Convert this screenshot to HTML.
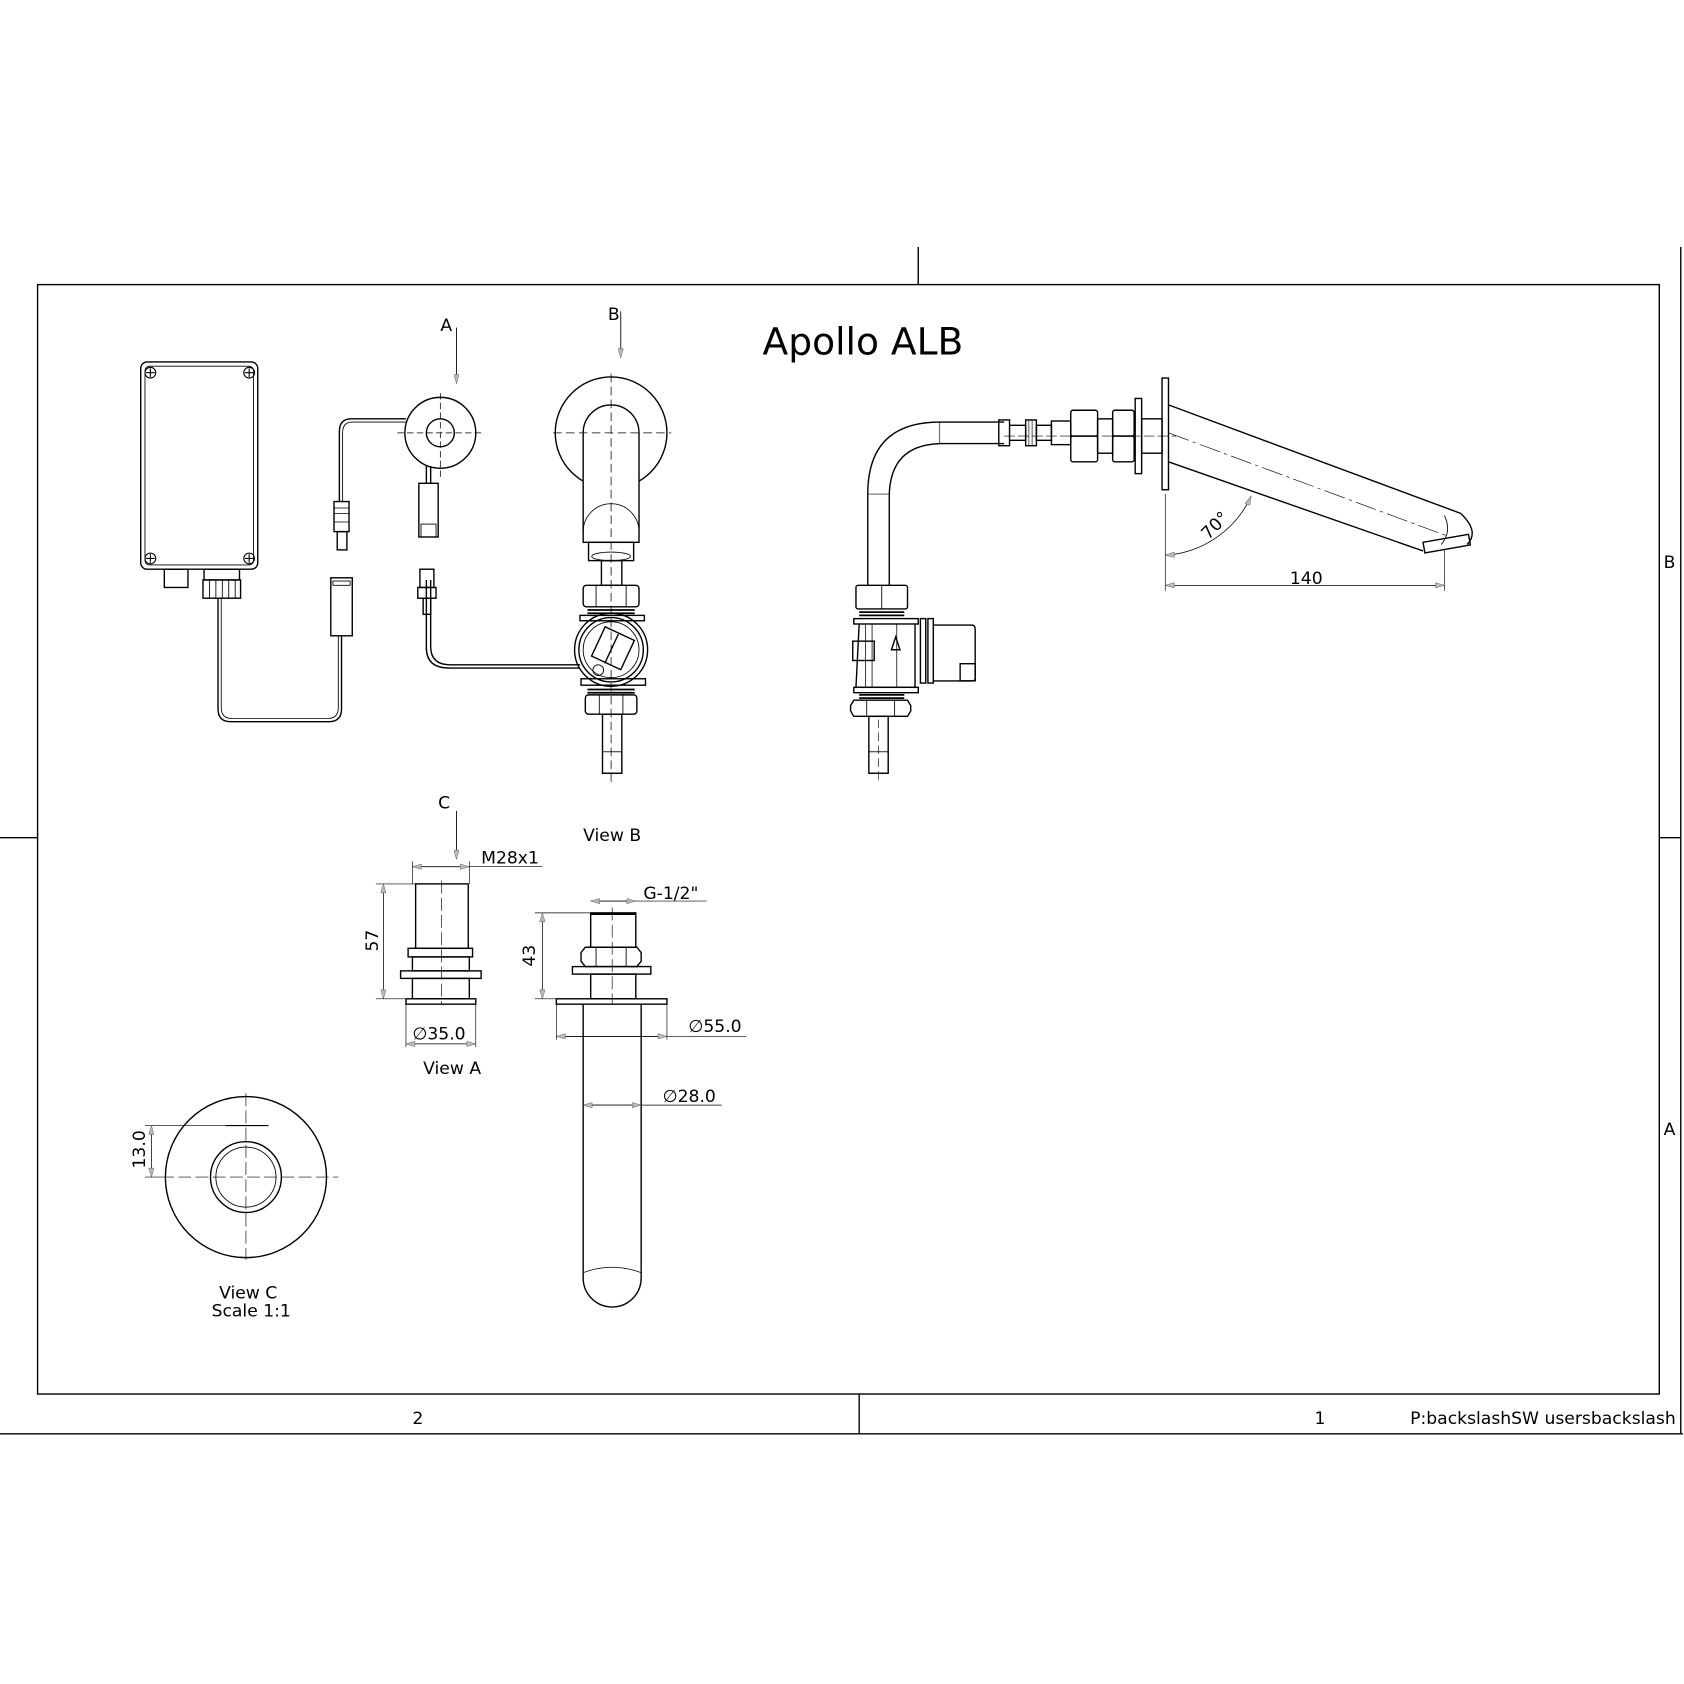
<!DOCTYPE html>
<html><head><meta charset="utf-8"><style>
html,body{margin:0;padding:0;background:#fff}
svg{display:block}
text{font-family:"DejaVu Sans","Liberation Sans",sans-serif;fill:#000}
</style></head><body>
<svg width="1684" height="1684" viewBox="0 0 1568 1568" xmlns="http://www.w3.org/2000/svg">
<defs>
<marker id="ar" viewBox="0 0 10 6" refX="10" refY="3" markerWidth="14" markerHeight="5" orient="auto-start-reverse" markerUnits="userSpaceOnUse"><path d="M0,0 L10,3 L0,6 z" fill="#bbb" stroke="#555" stroke-width="0.5"/></marker>
</defs>
<g fill="none" stroke="#000" stroke-width="1.3">
<!-- frame -->
<rect x="35" y="265" width="1510" height="1033"/>
<line x1="855" y1="230" x2="855" y2="265"/>
<line x1="1565" y1="230" x2="1565" y2="1335"/>
<line x1="0" y1="780" x2="35" y2="780"/>
<line x1="1545" y1="780" x2="1565" y2="780"/>
<line x1="0" y1="1335" x2="1568" y2="1335"/>
<line x1="800" y1="1298" x2="800" y2="1335"/>

<!-- control box -->
<rect x="131" y="337" width="109" height="193" rx="6"/>
<rect x="135" y="341" width="101" height="185" rx="4" stroke-width="0.8"/>
<g stroke-width="1">
<circle cx="140" cy="347" r="5"/><circle cx="232" cy="347" r="5"/>
<circle cx="140" cy="520" r="5"/><circle cx="232" cy="520" r="5"/>
<path d="M136,347h8M140,343v8M228,347h8M232,343v8M136,520h8M140,516v8M228,520h8M232,516v8"/>
</g>
<rect x="153" y="530" width="22" height="17"/>
<rect x="190" y="530" width="33" height="10"/>
<rect x="189" y="540" width="35" height="17"/>
<path d="M195,540v17M201,540v17M207,540v17M213,540v17M219,540v17" stroke-width="0.8"/>
<path d="M203,557 V660 Q203,672 215,672 H306 Q318,672 318,660 V592"/>
<path d="M206,557 V659 Q206,669 216,669 H305 Q315,669 315,659 V592" stroke-width="0.8"/>
<rect x="308" y="538" width="20" height="54"/>
<rect x="310" y="541" width="16" height="4" stroke-width="0.8"/>

<!-- sensor A -->
<circle cx="410" cy="403" r="33"/>
<circle cx="410" cy="403" r="13"/>
<path d="M370,403h80M410,366v80" stroke-dasharray="6,3" stroke-width="0.7"/>
<path d="M378,390 H327 Q316,390 316,402 V467"/>
<path d="M378,393 H328 Q319,393 319,403 V467" stroke-width="0.8"/>
<rect x="311" y="467" width="14" height="28"/>
<rect x="314" y="495" width="9" height="17"/>
<path d="M311,473h14M311,478h14M311,486h14" stroke-width="0.7"/>
<path d="M397,434 V450 M401,434 V450"/>
<rect x="390" y="450" width="18" height="50"/>
<rect x="392" y="488" width="14" height="12" stroke-width="0.8"/>
<line x1="425" y1="305" x2="425" y2="357" stroke-width="0.8" marker-end="url(#ar)"/>
<line x1="578" y1="290" x2="578" y2="333" stroke-width="0.8" marker-end="url(#ar)"/>

<!-- view B -->
<circle cx="569" cy="403" r="52"/>
<path d="M543,505 V403 A26,26 0 0 1 595,403 V505 Z" fill="#fff"/>
<path d="M543,495 A26,26 0 0 1 595,495" stroke-width="0.8"/>
<path d="M515,403h110M569,348v380" stroke-dasharray="8,4" stroke-width="0.7"/>
<rect x="548" y="505" width="42" height="17"/>
<ellipse cx="569" cy="518" rx="18" ry="4" stroke-width="0.8"/>
<rect x="560" y="522" width="19" height="23"/>
<rect x="543" y="545" width="52" height="20" rx="3"/>
<path d="M555,545v20M583,545v20" stroke-width="0.8"/>
<path d="M547,568h44M547,571h44" stroke-width="1.6"/>
<rect x="540" y="573" width="60" height="5"/>
<circle cx="569" cy="605" r="34"/>
<circle cx="569" cy="605" r="30"/>
<circle cx="569" cy="605" r="26" stroke-width="0.8"/>
<rect x="555" y="588" width="30" height="30" transform="rotate(25 569 605)"/>
<line x1="555" y1="605" x2="585" y2="605" transform="rotate(-65 569 605)"/>
<circle cx="557" cy="624" r="5" stroke-width="0.8"/>
<rect x="541" y="632" width="60" height="6"/>
<path d="M547,642h44M547,645h44" stroke-width="1.6"/>
<rect x="545" y="647" width="48" height="18" rx="3"/>
<path d="M558,647v18M580,647v18" stroke-width="0.8"/>
<rect x="561" y="665" width="18" height="55"/>
<rect x="561" y="700" width="18" height="20" stroke-width="0.8"/>
<path d="M397,540 V603 Q397,622 418,622 H540 M401,540 V602 Q401,619 419,619 H540"/>
<rect x="391" y="530" width="13" height="17"/>
<rect x="389" y="547" width="17" height="10"/>
<rect x="394" y="557" width="7" height="15"/>

<!-- side view -->
<path d="M935,393 H875 Q808,393 808,460 V545"/>
<path d="M935,413 H878 Q828,413 828,463 V545"/>
<line x1="875" y1="393" x2="875" y2="413" stroke-width="0.6"/>
<line x1="808" y1="460" x2="828" y2="460" stroke-width="0.6"/>
<rect x="930" y="391" width="10" height="24"/>
<path d="M940,396 H955 V410 H940"/>
<rect x="955" y="391" width="10" height="24"/>
<path d="M958,391v24M961,391v24" stroke-width="0.6"/>
<rect x="965" y="396" width="14" height="14"/>
<rect x="979" y="392" width="18" height="22"/>
<rect x="997" y="382" width="25" height="24" rx="2"/>
<rect x="997" y="406" width="25" height="24" rx="2"/>
<rect x="1022" y="390" width="14" height="32"/>
<rect x="1036" y="382" width="20" height="24" rx="2"/>
<rect x="1036" y="406" width="20" height="24" rx="2"/>
<rect x="1057" y="371" width="6" height="70"/>
<rect x="1063" y="390" width="19" height="32"/>
<rect x="1082" y="352" width="6" height="104"/>
<path d="M935,406h160" stroke-dasharray="10,3" stroke-width="0.6"/>
<!-- spout -->
<path d="M1088,377 L1360,478 Q1378,495 1366,507 M1088,430 L1325,513"/>
<path d="M1088,403 L1350,500" stroke-dasharray="20,4,3,4" stroke-width="0.6"/>
<path d="M1345,480 Q1352,495 1342,507" stroke-width="0.8"/>
<rect x="1325" y="505" width="43" height="10" transform="rotate(-10 1325 505)"/>
<!-- dims -->
<path d="M1085,460 V550 M1345,512 V550" stroke-width="0.6"/>
<line x1="1085" y1="545" x2="1345" y2="545" stroke-width="0.7" marker-start="url(#ar)" marker-end="url(#ar)"/>
<path d="M1085,517 A95,95 0 0 0 1165,462" stroke-width="0.7" marker-start="url(#ar)" marker-end="url(#ar)"/>
<!-- valve side -->
<rect x="797" y="545" width="48" height="22" rx="2"/>
<line x1="821" y1="545" x2="821" y2="567" stroke-width="0.8"/>
<path d="M800,570h42M800,573h42" stroke-width="1.6"/>
<rect x="795" y="576" width="60" height="5"/>
<path d="M800,581 L797,640 H852 V581"/>
<path d="M806,581v59M812,581v59M835,581v59" stroke-width="0.7"/>
<rect x="794" y="597" width="20" height="18"/>
<path d="M830,605 L834,593 L838,605 Z"/>
<rect x="795" y="640" width="60" height="5"/>
<rect x="857" y="576" width="5" height="60"/>
<rect x="864" y="576" width="5" height="60"/>
<path d="M869,582 H905 Q908,582 908,586 V632 Q908,634 905,634 H869"/>
<rect x="894" y="618" width="14" height="16"/>
<path d="M800,647h42M800,650h42" stroke-width="1.6"/>
<path d="M795,652 H845 L848,657 V662 L845,667 H795 L792,662 V657 Z"/>
<path d="M807,652v15M833,652v15" stroke-width="0.8"/>
<rect x="809" y="667" width="18" height="53"/>
<rect x="809" y="700" width="18" height="20" stroke-width="0.8"/>
<path d="M818,670v58" stroke-dasharray="8,4" stroke-width="0.6"/>

<!-- view A -->
<line x1="425" y1="755" x2="425" y2="800" stroke-width="0.8" marker-end="url(#ar)"/>
<line x1="384" y1="807" x2="505" y2="807" stroke-width="0.6"/>
<line x1="384" y1="807" x2="437" y2="807" stroke-width="0.7" marker-start="url(#ar)" marker-end="url(#ar)"/>
<path d="M384,802V823M437,802V823" stroke-width="0.6"/>
<rect x="387" y="823" width="49" height="60"/>
<rect x="380" y="883" width="60" height="8"/>
<rect x="384" y="891" width="53" height="13"/>
<rect x="373" y="904" width="75" height="7"/>
<rect x="384" y="911" width="53" height="19"/>
<rect x="378" y="930" width="65" height="5"/>
<path d="M411,820v115" stroke-dasharray="12,4" stroke-width="0.6"/>
<path d="M350,823h37M350,930h28" stroke-width="0.6"/>
<line x1="357" y1="823" x2="357" y2="930" stroke-width="0.7" marker-start="url(#ar)" marker-end="url(#ar)"/>
<path d="M378,935V975M443,935V975" stroke-width="0.6"/>
<line x1="378" y1="972" x2="443" y2="972" stroke-width="0.7" marker-start="url(#ar)" marker-end="url(#ar)"/>

<!-- long part -->
<line x1="550" y1="839" x2="658" y2="839" stroke-width="0.6"/>
<line x1="550" y1="839" x2="592" y2="839" stroke-width="0.7" marker-start="url(#ar)" marker-end="url(#ar)"/>
<rect x="550" y="850" width="42" height="32"/>
<line x1="550" y1="851" x2="592" y2="851" stroke-width="2"/>
<path d="M545,882 H593 L597,887 V895 L593,900 H545 L541,895 V887 Z"/>
<path d="M555,882v18M583,882v18" stroke-width="0.8"/>
<rect x="533" y="900" width="73" height="7"/>
<rect x="550" y="907" width="42" height="23"/>
<rect x="518" y="930" width="103" height="5"/>
<path d="M543,935 V1190 A27,27 0 0 0 597,1190 V935"/>
<path d="M543,1185 Q570,1175 597,1185" stroke-width="0.7"/>
<path d="M570,845v90" stroke-dasharray="12,4" stroke-width="0.6"/>
<path d="M498,850h52M498,930h20" stroke-width="0.6"/>
<line x1="505" y1="850" x2="505" y2="930" stroke-width="0.7" marker-start="url(#ar)" marker-end="url(#ar)"/>
<path d="M518,935V968M621,935V968" stroke-width="0.6"/>
<line x1="518" y1="965" x2="695" y2="965" stroke-width="0.6"/>
<line x1="518" y1="965" x2="621" y2="965" stroke-width="0.7" marker-start="url(#ar)" marker-end="url(#ar)"/>
<line x1="543" y1="1029" x2="672" y2="1029" stroke-width="0.6"/>
<line x1="543" y1="1029" x2="597" y2="1029" stroke-width="0.7" marker-start="url(#ar)" marker-end="url(#ar)"/>

<!-- view C -->
<circle cx="229" cy="1096" r="75"/>
<circle cx="229" cy="1096" r="33"/>
<circle cx="229" cy="1096" r="28" stroke-width="0.8"/>
<path d="M150,1096h165M229,1018v155" stroke-dasharray="12,4" stroke-width="0.6"/>
<path d="M210,1048h40" stroke-width="1"/>
<path d="M135,1048h75M135,1096h15" stroke-width="0.6"/>
<line x1="141" y1="1048" x2="141" y2="1096" stroke-width="0.7" marker-start="url(#ar)" marker-end="url(#ar)"/>
</g>

<g font-size="16">
<text x="710" y="330" font-size="35">Apollo ALB</text>
<text x="410" y="308">A</text>
<text x="566" y="298">B</text>
<text x="408" y="753">C</text>
<text x="543" y="783">View B</text>
<text x="448" y="804">M28x1</text>
<text x="599" y="837">G-1/2"</text>
<text x="394" y="1000">View A</text>
<text x="384" y="968">∅35.0</text>
<text x="641" y="961">∅55.0</text>
<text x="617" y="1026">∅28.0</text>
<text x="1201" y="544">140</text>
<text x="0" y="0" transform="translate(1125,503) rotate(-45)">70°</text>
<text x="0" y="0" transform="translate(352,886) rotate(-90)">57</text>
<text x="0" y="0" transform="translate(498,900) rotate(-90)">43</text>
<text x="0" y="0" transform="translate(135,1088) rotate(-90)">13.0</text>
<text x="204" y="1209">View C</text>
<text x="197" y="1226">Scale 1:1</text>
<text x="384" y="1326">2</text>
<text x="1224" y="1326">1</text>
<text x="1313" y="1326">P:backslashSW usersbackslash</text>
<text x="1549" y="529">B</text>
<text x="1549" y="1057">A</text>
</g>
<rect x="1567" y="1300" width="1" height="40" fill="#fff"/>
</svg>
</body></html>
